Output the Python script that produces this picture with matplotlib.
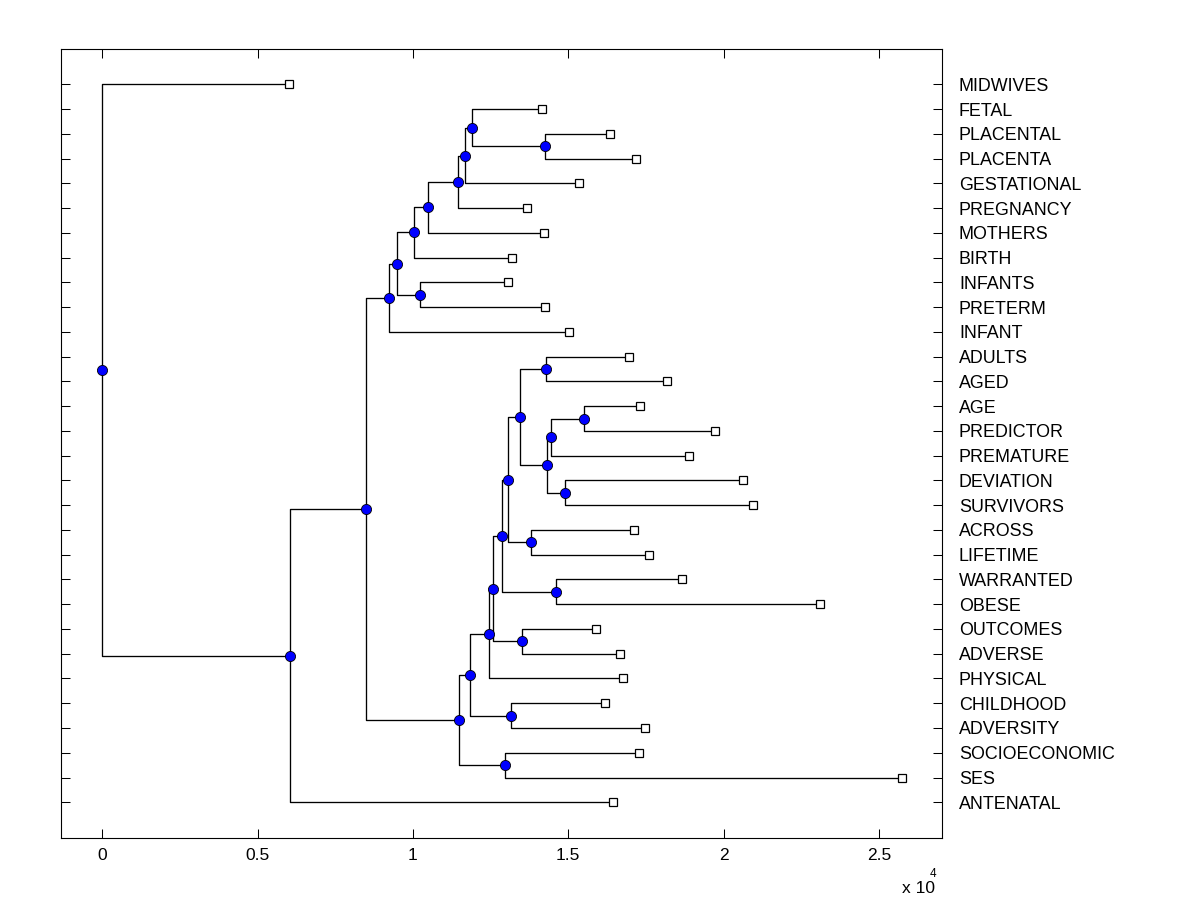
import matplotlib
matplotlib.use('Agg')
import matplotlib.pyplot as plt

# ── Data ──────────────────────────────────────────────────────────────────────
SCALE = 1e4   # x axis is shown in units of 10^4

# leaves, top to bottom, with their leaf heights
leaf_names = ['MIDWIVES', 'FETAL', 'PLACENTAL', 'PLACENTA', 'GESTATIONAL',
              'PREGNANCY', 'MOTHERS', 'BIRTH', 'INFANTS', 'PRETERM', 'INFANT',
              'ADULTS', 'AGED', 'AGE', 'PREDICTOR', 'PREMATURE', 'DEVIATION',
              'SURVIVORS', 'ACROSS', 'LIFETIME', 'WARRANTED', 'OBESE',
              'OUTCOMES', 'ADVERSE', 'PHYSICAL', 'CHILDHOOD', 'ADVERSITY',
              'SOCIOECONOMIC', 'SES', 'ANTENATAL']
leaf_height = [6020, 14170, 16360, 17190, 15330,
               13680, 14230, 13200, 13070, 14260, 15040,
               16970, 18190, 17320, 19740, 18900, 20640,
               20960, 17130, 17610, 18670, 23120,
               15900, 16650, 16770, 16190, 17480,
               17290, 25760, 16450]

# merges: (child a, child b, node height); ints refer to earlier merges
merges = [
    ('PLACENTAL', 'PLACENTA', 14260),
    ('FETAL', 0, 11910),
    (1, 'GESTATIONAL', 11690),
    (2, 'PREGNANCY', 11460),
    (3, 'MOTHERS', 10500),
    (4, 'BIRTH', 10040),
    ('INFANTS', 'PRETERM', 10240),
    (5, 6, 9500),
    (7, 'INFANT', 9240),
    ('ADULTS', 'AGED', 14290),
    ('AGE', 'PREDICTOR', 15520),
    (10, 'PREMATURE', 14460),
    ('DEVIATION', 'SURVIVORS', 14910),
    (11, 12, 14330),
    (9, 13, 13460),
    ('ACROSS', 'LIFETIME', 13810),
    (14, 15, 13070),
    ('WARRANTED', 'OBESE', 14620),
    (16, 17, 12880),
    ('OUTCOMES', 'ADVERSE', 13520),
    (18, 19, 12590),
    (20, 'PHYSICAL', 12460),
    ('CHILDHOOD', 'ADVERSITY', 13170),
    (21, 22, 11850),
    ('SOCIOECONOMIC', 'SES', 12970),
    (23, 24, 11490),
    (8, 25, 8500),
    (26, 'ANTENATAL', 6030),
    ('MIDWIVES', 27, 0),
]

x_ticks = [0, 0.5, 1, 1.5, 2, 2.5]
x_tick_labels = ['0', '0.5', '1', '1.5', '2', '2.5']

# ── Figure ────────────────────────────────────────────────────────────────────
plt.rcParams['font.family'] = ['Liberation Sans', 'DejaVu Sans']

fig = plt.figure(figsize=(12, 9), dpi=100)
ax = fig.add_axes([0.0511, 0.0686, 0.7341, 0.8766])

leaf_y = {name: i + 1 for i, name in enumerate(leaf_names)}
leaf_x = {name: h / SCALE for name, h in zip(leaf_names, leaf_height)}

node_pos = []   # (x, y) of each merge node


def child_pos(c):
    if isinstance(c, int):
        return node_pos[c]
    return leaf_x[c], leaf_y[c]


for a, b, h in merges:
    xa, ya = child_pos(a)
    xb, yb = child_pos(b)
    xp = h / SCALE
    ax.plot([xa, xp, xp, xb], [ya, ya, yb, yb], color='black', lw=0.95, zorder=1)
    node_pos.append((xp, (ya + yb) / 2))

# leaf squares
ax.plot([leaf_x[n] for n in leaf_names], [leaf_y[n] for n in leaf_names],
        ls='none', marker='s', ms=5.4, mfc='white', mec='black', mew=0.9, zorder=3)
# node circles
ax.plot([p[0] for p in node_pos], [p[1] for p in node_pos],
        ls='none', marker='o', ms=7.3, mfc='#0000ff', mec='black', mew=0.6, zorder=4)

ax.set_xlim(-0.132, 2.704)
ax.set_ylim(31.454, -0.414)
ax.set_xticks(x_ticks)
ax.set_xticklabels(x_tick_labels, fontsize=12.5)
ax.set_yticks([leaf_y[n] for n in leaf_names])
ax.set_yticklabels(leaf_names, fontsize=12.9)

ax.tick_params(axis='both', direction='in', length=6.5, width=0.75, colors='black')
ax.tick_params(axis='x', top=True, pad=7)
ax.tick_params(axis='y', left=True, right=True, labelleft=False,
               labelright=True, pad=12)
for sp in ax.spines.values():
    sp.set_linewidth(0.8)

# exponent label
fig.text(0.7515, 0.008, 'x 10', fontsize=12.5, ha='left', va='baseline')
fig.text(0.7745, 0.0255, '4', fontsize=8.5, ha='left', va='baseline')

fig.savefig('out.png', dpi=100, facecolor='white')
